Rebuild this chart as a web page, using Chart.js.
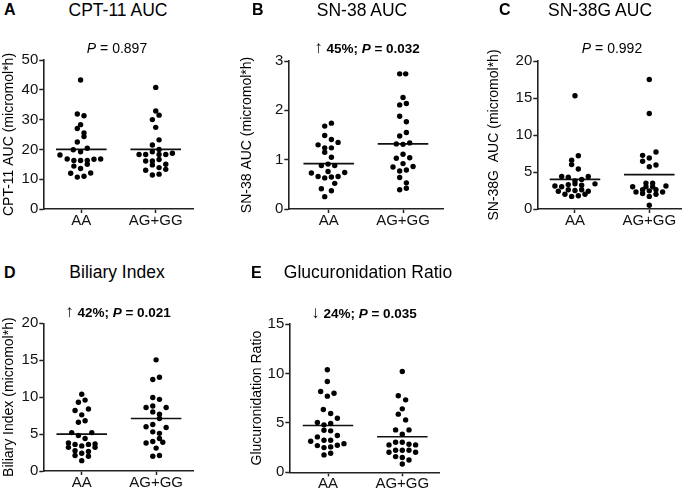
<!DOCTYPE html>
<html><head><meta charset="utf-8">
<script src="https://cdn.jsdelivr.net/npm/chart.js@4.4.1/dist/chart.umd.min.js"></script>
<style>
html,body{margin:0;padding:0;background:#fff;}
#wrap{position:relative;width:690px;height:493px;overflow:hidden;font-family:"Liberation Sans",Arial,sans-serif;color:#000;}
canvas{position:absolute;}
.t{position:absolute;white-space:nowrap;}
.arr{font-weight:normal;font-size:17px;line-height:0;}
</style></head><body><div id="wrap"></div>
<script>
// ---------------- data ----------------
const groups = ['AA', 'AG+GG'];

// A: CPT-11 AUC
const cptTicks = [0, 10, 20, 30, 40, 50];
const cptAA = [43.3, 31.9, 31.3, 28.3, 27.0, 25.5, 24.3, 22.5, 19.9, 19.2, 20.4, 18.1, 16.8, 16.3, 16.3, 16.3, 16.7, 16.8, 14.4, 13.6, 15.0, 12.0, 12.1, 10.7, 11.0];
const cptAAJitter = [-0.01, -0.054, 0.036, -0.01, -0.054, 0.036, 0.036, -0.054, -0.108, -0.01, 0.08, -0.287, -0.19, -0.1, -0.01, 0.08, 0.17, 0.26, -0.1, -0.01, 0.08, -0.143, 0.126, -0.054, 0.036];
const cptGG = [40.8, 32.9, 31.5, 30.0, 27.4, 23.2, 21.5, 20.0, 19.2, 18.3, 18.3, 18.3, 18.3, 18.7, 16.1, 16.1, 16.6, 14.8, 15.0, 13.9, 13.3, 13.0, 11.4, 11.7];
const cptGGJitter = [0, 0, 0.045, -0.045, 0, 0.045, -0.045, 0.045, -0.045, -0.224, -0.135, 0.045, 0.135, 0.224, -0.135, -0.045, 0.045, -0.045, 0.135, 0.045, 0.135, -0.135, -0.045, 0.045];
const cptMeans = [20.0, 20.0];

// B: SN-38 AUC
const snTicks = [0, 1, 2, 3];
const snAA = [1.74, 1.68, 1.49, 1.41, 1.30, 1.35, 1.24, 1.24, 1.15, 1.05, 0.88, 0.91, 0.88, 0.76, 0.73, 0.74, 0.66, 0.63, 0.65, 0.66, 0.52, 0.41, 0.37, 0.25];
const snAAJitter = [0.036, -0.054, -0.054, 0.036, -0.143, 0.126, -0.054, 0.036, -0.054, 0.036, -0.099, -0.009, 0.081, -0.009, -0.233, 0.215, -0.143, -0.054, 0.036, 0.126, 0.081, -0.099, 0.036, -0.054];
const snGG = [2.74, 2.74, 2.26, 2.11, 2.14, 1.88, 1.77, 1.55, 1.48, 1.32, 1.31, 1.34, 1.11, 1.03, 1.04, 0.92, 0.85, 0.86, 0.77, 0.79, 0.64, 0.53, 0.39, 0.42];
const snGGJitter = [-0.045, 0.036, 0, -0.045, 0.045, -0.045, 0.045, 0.045, -0.045, -0.09, 0, 0.09, 0, -0.09, 0.09, 0, -0.135, 0.135, -0.045, 0.045, -0.045, 0.045, -0.045, 0.045];
const snMeans = [0.92, 1.32];

// C: SN-38G AUC
const sngTicks = [0, 5, 10, 15, 20];
const sngAA = [15.3, 7.2, 6.6, 6.0, 5.4, 4.4, 4.3, 4.4, 3.8, 4.0, 3.1, 3.0, 3.3, 3.4, 3.2, 3.4, 2.4, 2.6, 2.5, 2.6, 2.4, 2.0, 1.7, 1.8, 2.0];
const sngAAJitter = [0, 0.045, -0.045, -0.045, 0.045, -0.179, -0.09, 0.179, 0, 0.09, -0.27, -0.179, -0.09, 0, 0.09, 0.269, -0.224, -0.09, 0, 0.09, 0.179, -0.135, -0.045, 0.045, 0.135];
const sngGG = [17.5, 12.9, 7.7, 7.25, 6.9, 6.45, 5.7, 5.95, 3.5, 3.5, 3.0, 3.0, 3.0, 3.1, 2.3, 2.6, 2.6, 2.3, 2.45, 2.1, 2.0, 1.7, 0.5];
const sngGGJitter = [0, 0, 0.09, -0.09, 0, -0.09, 0, 0.09, -0.045, 0.045, -0.045, 0.045, -0.224, 0.224, -0.179, -0.09, 0.09, 0.179, 0, -0.09, 0.09, 0, 0];
const sngMeans = [4.0, 4.65];

// D: Biliary Index
const biTicks = [0, 5, 10, 15, 20];
const biAA = [10.4, 9.3, 9.6, 8.2, 8.4, 7.6, 6.6, 6.8, 5.2, 5.2, 4.8, 4.4, 3.8, 3.2, 3.6, 3.4, 3.6, 3.65, 3.2, 2.75, 2.65, 2.1, 2.4, 2.0, 1.4];
const biAAJitter = [0, -0.045, 0.045, -0.09, 0.09, 0, -0.045, 0.045, -0.135, 0.135, -0.045, 0.045, -0.179, -0.179, -0.09, 0, 0.09, 0.179, 0.179, -0.09, 0.09, -0.09, 0, 0.09, 0];
const biGG = [15.05, 12.4, 12.7, 9.95, 9.7, 8.6, 8.8, 8.6, 8.0, 7.7, 7.1, 6.0, 6.3, 5.9, 5.3, 5.1, 4.4, 3.8, 4.0, 3.9, 3.1, 2.0, 2.1];
const biGGJitter = [0, -0.045, 0.045, -0.045, 0.045, -0.135, -0.045, 0.135, -0.045, 0.045, 0.045, -0.135, -0.045, 0.135, -0.045, 0.045, 0.045, -0.135, -0.045, 0.09, 0, -0.045, 0.045];
const biMeans = [5.0, 7.1];

// E: Glucuronidation Ratio
const glTicks = [0, 5, 10, 15];
const glAA = [10.37, 9.19, 8.18, 8.0, 7.7, 6.35, 5.95, 5.47, 5.03, 4.8, 4.93, 4.26, 4.19, 3.58, 3.72, 3.14, 3.24, 3.24, 2.9, 2.7, 2.74, 2.5, 2.57, 1.76, 1.93];
const glAAJitter = [-0.009, -0.009, -0.099, 0.081, -0.009, -0.063, 0.036, 0.126, -0.143, -0.054, 0.036, -0.054, 0.036, -0.143, 0.126, -0.233, -0.054, 0.036, 0.215, -0.143, 0.126, -0.054, 0.036, -0.054, 0.036];
const glGG = [10.2, 7.74, 7.33, 6.42, 5.88, 5.3, 4.29, 4.29, 3.85, 2.77, 3.04, 3.04, 2.84, 2.77, 2.03, 2.23, 2.23, 2.23, 2.03, 1.59, 1.49, 1.25, 0.84];
const glGGJitter = [0, -0.054, 0.045, 0, -0.054, 0.045, -0.09, 0.09, 0, -0.179, -0.09, 0, 0.09, 0.179, -0.179, -0.09, 0, 0.09, 0.179, -0.09, 0, 0.09, 0];
const glMeans = [4.73, 3.6];

// Text
const panelLetters = ['A', 'B', 'C', 'D', 'E'];
const panelTitles = ['CPT-11 AUC', 'SN-38 AUC', 'SN-38G AUC', 'Biliary Index', 'Glucuronidation Ratio'];
const yTitles = ['CPT-11 AUC (micromol*h)', 'SN-38 AUC (micromol*h)', 'SN-38G  AUC (micromol*h)', 'Biliary Index (micromol*h)', 'Glucuronidation Ratio'];
const changeArrows = ['', '\u2191', '', '\u2191', '\u2193'];
const changePct = ['', '45%', '', '42%', '24%'];
const pValues = ['0.897', '0.032', '0.992', '0.021', '0.035'];

// ---------------- layout ----------------
const specs = [
  {ticks: cptTicks, aa: cptAA, aaJ: cptAAJitter, gg: cptGG, ggJ: cptGGJitter, means: cptMeans},
  {ticks: snTicks, aa: snAA, aaJ: snAAJitter, gg: snGG, ggJ: snGGJitter, means: snMeans},
  {ticks: sngTicks, aa: sngAA, aaJ: sngAAJitter, gg: sngGG, ggJ: sngGGJitter, means: sngMeans},
  {ticks: biTicks, aa: biAA, aaJ: biAAJitter, gg: biGG, ggJ: biGGJitter, means: biMeans},
  {ticks: glTicks, aa: glAA, aaJ: glAAJitter, gg: glGG, ggJ: glGGJitter, means: glMeans}
];
const frames = [
  {left: 0,   top: 50,  w: 200, h: 185, yw: 43.3, xh: 26,   padTop: 10,   padRight: 6.7, xmin: -0.511, xmax: 1.505},
  {left: 238, top: 50,  w: 210, h: 185, yw: 50.3, xh: 26,   padTop: 11,   padRight: 4.7, xmin: -0.544, xmax: 1.542},
  {left: 485, top: 50,  w: 205, h: 185, yw: 52.3, xh: 26,   padTop: 11,   padRight: 8.3, xmin: -0.507, xmax: 1.436},
  {left: 0,   top: 313, w: 200, h: 180, yw: 43.3, xh: 22,   padTop: 10.3, padRight: 6.7, xmin: -0.517, xmax: 1.50},
  {left: 248, top: 313, w: 200, h: 180, yw: 41.3, xh: 20.7, padTop: 11,   padRight: 9,   xmin: -0.521, xmax: 1.494}
];
const letterPos = [[4, 16], [252, 16], [499, 16], [4, 278.5], [251, 278.5]];
const titlePos = [[118, 16.7], [362, 16.7], [600, 16.7], [117, 278.5], [368, 278.5]];
const notePos = [[117, 52.7], [367, 53], [612, 53], [118, 317.5], [364, 318]];

const wrap = document.getElementById('wrap');
Chart.defaults.font.family = '"Liberation Sans", Arial, sans-serif';

function addText(html, x, baseline, size, opts) {
  const d = document.createElement('div');
  d.className = 't';
  d.innerHTML = html;
  d.style.fontSize = size + 'px';
  d.style.lineHeight = size + 'px';
  d.style.top = (baseline - 0.8465 * size) + 'px';
  d.style.left = x + 'px';
  if (opts.center) d.style.transform = 'translateX(-50%)';
  if (opts.bold) d.style.fontWeight = 'bold';
  wrap.appendChild(d);
}

const AXIS = '#222';
function makePanel(i) {
  const f = frames[i], s = specs[i];
  const cv = document.createElement('canvas');
  cv.width = f.w; cv.height = f.h;
  cv.style.left = f.left + 'px'; cv.style.top = f.top + 'px';
  cv.style.width = f.w + 'px'; cv.style.height = f.h + 'px';
  wrap.appendChild(cv);
  const pts = (vals, jit, g) => vals.map((v, k) => ({x: g + jit[k], y: v}));
  const meanLine = g => [{x: g - 0.34, y: s.means[g]}, {x: g + 0.34, y: s.means[g]}];
  const dot = {backgroundColor: '#000', borderWidth: 0, pointRadius: 2.7, pointHoverRadius: 2.7};
  const ln = {showLine: true, borderColor: '#111', borderWidth: 1.6, pointRadius: 0, pointHoverRadius: 0};
  const grid = {display: true, drawOnChartArea: false, drawTicks: true, tickLength: 4, tickWidth: 1.5, tickColor: AXIS};
  const border = {display: true, color: AXIS, width: 1.6};
  new Chart(cv, {
    type: 'scatter',
    data: {datasets: [
      Object.assign({data: pts(s.aa, s.aaJ, 0)}, dot),
      Object.assign({data: pts(s.gg, s.ggJ, 1)}, dot),
      Object.assign({data: meanLine(0)}, ln),
      Object.assign({data: meanLine(1)}, ln)
    ]},
    options: {
      responsive: false, animation: false, devicePixelRatio: 1,
      layout: {padding: {top: f.padTop, right: f.padRight, left: 0, bottom: 0}},
      plugins: {legend: {display: false}, tooltip: {enabled: false}},
      events: [],
      scales: {
        x: {
          type: 'linear', min: f.xmin, max: f.xmax,
          afterBuildTicks: ax => { ax.ticks = groups.map((g, k) => ({value: k})); },
          afterFit: ax => { ax.height = f.xh; },
          ticks: {callback: v => groups[v], color: '#111', font: {size: 15, lineHeight: 1}, padding: 0, maxRotation: 0, autoSkip: false},
          grid: grid, border: border
        },
        y: {
          type: 'linear', min: s.ticks[0], max: s.ticks[s.ticks.length - 1],
          afterBuildTicks: ax => { ax.ticks = s.ticks.map(v => ({value: v})); },
          afterFit: ax => { ax.width = f.yw; },
          ticks: {color: '#111', font: {size: 15}, padding: 1, callback: v => String(v)},
          grid: grid, border: border,
          title: {display: true, text: yTitles[i], color: '#000', font: {size: 14}, padding: {top: 0.6, bottom: 0}}
        }
      }
    }
  });
  addText(panelLetters[i], letterPos[i][0], letterPos[i][1], 16, {bold: true});
  addText(panelTitles[i], titlePos[i][0], titlePos[i][1], 17.5, {center: true});
  let note;
  if (changeArrows[i]) {
    note = '<span class="arr">' + changeArrows[i] + '</span> ' + changePct[i] + '; <i>P</i> = ' + pValues[i];
    addText(note, notePos[i][0], notePos[i][1], 13.5, {center: true, bold: true});
  } else {
    note = '<i>P</i> = ' + pValues[i];
    addText(note, notePos[i][0], notePos[i][1], 14, {center: true});
  }
}
for (let i = 0; i < 5; i++) makePanel(i);
</script>
</body></html>
